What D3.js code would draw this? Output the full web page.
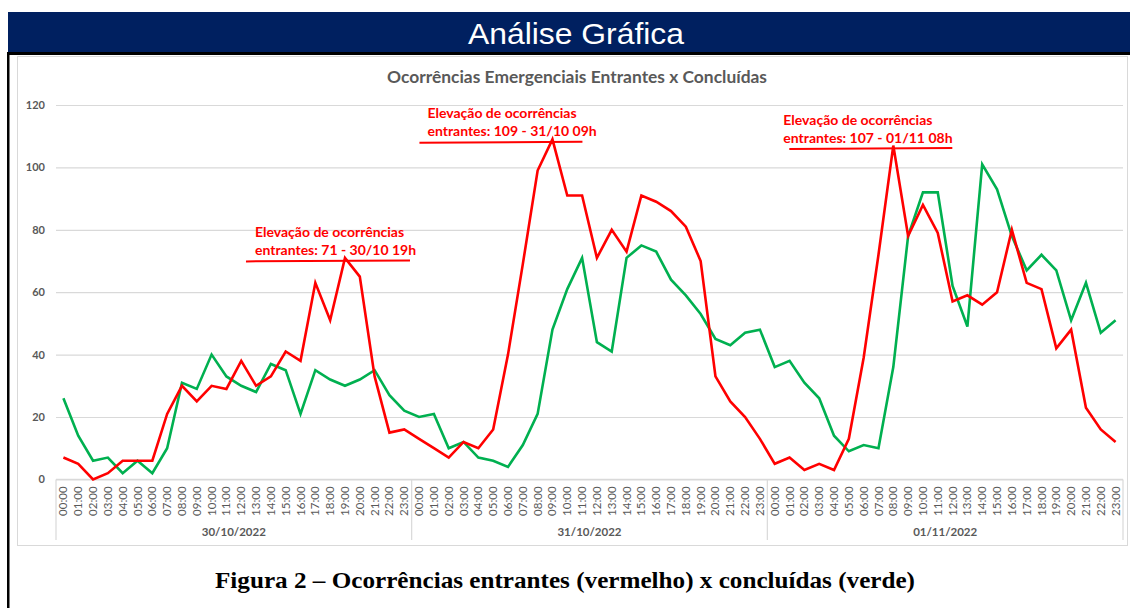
<!DOCTYPE html>
<html>
<head>
<meta charset="utf-8">
<script src="https://cdn.jsdelivr.net/npm/d3@7"></script>
<style>
  body { margin: 0; background: #fff; }
  svg { display: block; }
</style>
</head>
<body>
<svg id="chart"></svg>
<script>
const days = ['30/10/2022', '31/10/2022', '01/11/2022'];
const hours = ['00:00', '01:00', '02:00', '03:00', '04:00', '05:00', '06:00', '07:00',
    '08:00', '09:00', '10:00', '11:00', '12:00', '13:00', '14:00', '15:00',
    '16:00', '17:00', '18:00', '19:00', '20:00', '21:00', '22:00', '23:00'];

// ocorrencias entrantes (vermelho), 3 dias x 24h
const entrantes = [
    7, 5, 0, 2, 6, 6, 6, 21, 30, 25, 30, 29, 38, 30, 33, 41, 38, 63, 51, 71, 65, 33, 15, 16,
    13, 10, 7, 12, 10, 16, 40, 69, 99, 109, 91, 91, 71, 80, 73, 91, 89, 86, 81, 70, 33, 25, 20, 13,
    5, 7, 3, 5, 3, 13, 39, 72, 107, 78, 88, 79, 57, 59, 56, 60, 80, 63, 61, 42, 48, 23, 16, 12
];
// ocorrencias concluidas (verde)
const concluidas = [
    26, 14, 6, 7, 2, 6, 2, 10, 31, 29, 40, 33, 30, 28, 37, 35, 21, 35, 32, 30, 32, 35, 27, 22,
    20, 21, 10, 12, 7, 6, 4, 11, 21, 48, 61, 71, 44, 41, 71, 75, 73, 64, 59, 53, 45, 43, 47, 48,
    36, 38, 31, 26, 14, 9, 11, 10, 36, 78, 92, 92, 62, 49, 101, 93, 78, 67, 72, 67, 51, 63, 47, 51
];
const yTicks = [0, 20, 40, 60, 80, 100, 120];

// annotation text + the peak it points at (index into the series)
const notePeaks = [19, 33, 56];
const noteLines = [
    ['Elevação de ocorrências', 'entrantes: 71 - 30/10 19h'],
    ['Elevação de ocorrências', 'entrantes: 109 - 31/10 09h'],
    ['Elevação de ocorrências', 'entrantes: 107 - 01/11 08h']
];

const width = 1130;
const height = 608;
const plotLeft = 56;
const plotRight = 1123;
const plotTop = 105;
const plotBottom = 479.4;
const font = 'Lato, Calibri, sans-serif';

const categories = days.flatMap((d) => hours.map((h) => d + ' ' + h));

const svg = d3.select('#chart')
    .attr('width', width)
    .attr('height', height);

// header band
svg.append('rect')
    .attr('x', 8).attr('y', 12)
    .attr('width', width - 8).attr('height', 41)
    .attr('fill', '#002060');
svg.append('text')
    .attr('x', 576).attr('y', 44)
    .attr('text-anchor', 'middle')
    .attr('fill', '#fff')
    .attr('font-family', 'Liberation Sans, Arial, sans-serif')
    .attr('font-size', 29)
    .attr('textLength', 216)
    .attr('lengthAdjust', 'spacingAndGlyphs')
    .text('Análise Gráfica');

// black frame
svg.append('rect')
    .attr('x', 7).attr('y', 52)
    .attr('width', width - 7).attr('height', 3)
    .attr('fill', '#000');
svg.append('rect')
    .attr('x', 7).attr('y', 52)
    .attr('width', 2.5).attr('height', height - 52)
    .attr('fill', '#000');

// chart area border
svg.append('rect')
    .attr('x', 17.5).attr('y', 56.5)
    .attr('width', 1110).attr('height', 489)
    .attr('fill', 'none')
    .attr('stroke', '#d9d9d9');

// chart title
svg.append('text')
    .attr('x', 577).attr('y', 83)
    .attr('text-anchor', 'middle')
    .attr('fill', '#595959')
    .attr('font-family', font)
    .attr('font-weight', 700)
    .attr('font-size', 17)
    .attr('textLength', 380)
    .attr('lengthAdjust', 'spacingAndGlyphs')
    .text('Ocorrências Emergenciais Entrantes x Concluídas');

const x = d3.scaleBand()
    .domain(categories)
    .range([plotLeft, plotRight]);
const cx = (i) => x(categories[i]) + x.bandwidth() / 2;

const y = d3.scaleLinear()
    .domain([0, 120])
    .range([plotBottom, plotTop]);

// y axis + gridlines
const yAxis = d3.axisLeft(y)
    .tickValues(yTicks)
    .tickSize(plotLeft - plotRight)
    .tickPadding(11);
const gy = svg.append('g')
    .attr('transform', 'translate(' + plotLeft + ',0)')
    .call(yAxis);
gy.select('.domain').remove();
gy.selectAll('.tick line')
    .attr('stroke', '#d9d9d9')
    .attr('stroke-width', 1.2);
gy.selectAll('.tick text')
    .attr('fill', '#595959')
    .attr('font-family', font)
    .attr('font-weight', 700)
    .attr('font-size', 11);

// x axis: hour labels rotated
const xAxis = d3.axisBottom(x)
    .tickSize(0)
    .tickFormat((d) => d.split(' ')[1]);
const gx = svg.append('g')
    .attr('transform', 'translate(0,' + plotBottom + ')')
    .call(xAxis);
gx.select('.domain').remove();
gx.selectAll('.tick text')
    .attr('transform', 'rotate(-90)')
    .attr('x', -7)
    .attr('y', 0)
    .attr('dy', '0.35em')
    .attr('text-anchor', 'end')
    .attr('fill', '#595959')
    .attr('font-family', font)
    .attr('font-size', 11.5);

// day groups
const dayScale = d3.scaleBand()
    .domain(days)
    .range([plotLeft, plotRight]);
svg.append('line')
    .attr('x1', plotLeft).attr('x2', plotRight)
    .attr('y1', plotBottom).attr('y2', plotBottom)
    .attr('stroke', '#d9d9d9')
    .attr('stroke-width', 1.2);
const edges = days.map((d) => dayScale(d)).concat([plotRight]);
svg.selectAll('line.day-sep')
    .data(edges)
    .enter()
    .append('line')
    .attr('class', 'day-sep')
    .attr('x1', (d) => d).attr('x2', (d) => d)
    .attr('y1', plotBottom).attr('y2', 540)
    .attr('stroke', '#d9d9d9')
    .attr('stroke-width', 1.2);
svg.selectAll('text.day')
    .data(days)
    .enter()
    .append('text')
    .attr('class', 'day')
    .attr('x', (d) => dayScale(d) + dayScale.bandwidth() / 2)
    .attr('y', 536)
    .attr('text-anchor', 'middle')
    .attr('fill', '#595959')
    .attr('font-family', font)
    .attr('font-weight', 700)
    .attr('font-size', 11.5)
    .text((d) => d);

// series
const line = d3.line()
    .x((d, i) => cx(i))
    .y((d) => y(d));

svg.append('path')
    .datum(concluidas)
    .attr('fill', 'none')
    .attr('stroke', '#00b050')
    .attr('stroke-width', 2.6)
    .attr('stroke-linejoin', 'miter')
    .attr('d', line);

svg.append('path')
    .datum(entrantes)
    .attr('fill', 'none')
    .attr('stroke', '#ff0000')
    .attr('stroke-width', 2.6)
    .attr('stroke-linejoin', 'miter')
    .attr('d', line);

// annotations (underline sits just under each peak)
const noteOffsets = [
    { left: -99, right: 65, text: 9 },
    { left: -133, right: 30, text: -125 },
    { left: -104, right: 59, text: -110 }
];
notePeaks.forEach((p, k) => {
    const px = cx(p);
    const py = y(entrantes[p]) + 3;
    const off = noteOffsets[k];
    svg.append('line')
        .attr('x1', px + off.left).attr('x2', px + off.right)
        .attr('y1', py + 0.5).attr('y2', py - 0.5)
        .attr('stroke', '#ff0000')
        .attr('stroke-width', 2);
    const tx = k === 0 ? px + off.left + off.text : px + off.text;
    const t = svg.append('text')
        .attr('fill', '#ff0000')
        .attr('font-family', font)
        .attr('font-weight', 700)
        .attr('font-size', 14);
    noteLines[k].forEach((s, j) => {
        t.append('tspan')
            .attr('x', tx)
            .attr('y', py - 24 + j * 18)
            .text(s);
    });
});

// caption
svg.append('text')
    .attr('x', 565).attr('y', 588)
    .attr('text-anchor', 'middle')
    .attr('fill', '#000')
    .attr('font-family', 'Liberation Serif, Cambria, serif')
    .attr('font-weight', 700)
    .attr('font-size', 24)
    .attr('textLength', 700)
    .attr('lengthAdjust', 'spacingAndGlyphs')
    .text('Figura 2 – Ocorrências entrantes (vermelho) x concluídas (verde)');
</script>
</body>
</html>
